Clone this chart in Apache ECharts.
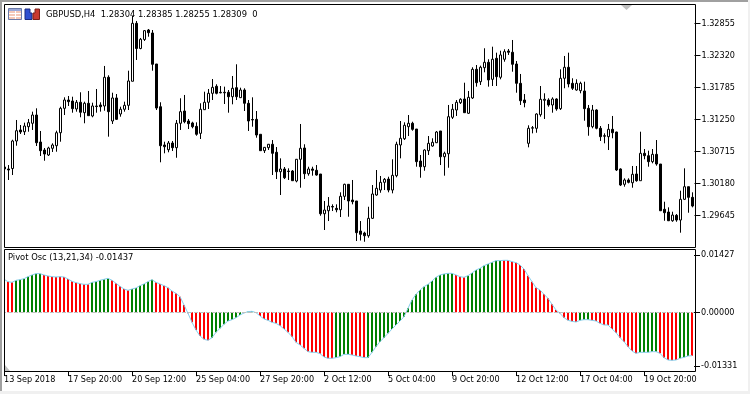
<!DOCTYPE html>
<html>
<head>
<meta charset="utf-8">
<title>GBPUSD,H4</title>
<style>
html,body{margin:0;padding:0;background:#fff;}
#chart{width:750px;height:394px;}
</style>
<script src="https://cdn.jsdelivr.net/npm/echarts@6/dist/echarts.min.js"></script>
</head>
<body>
<div id="chart"></div>
<script>
const tickLabels = ['13 Sep 2018','17 Sep 20:00','20 Sep 12:00','25 Sep 04:00','27 Sep 20:00','2 Oct 12:00','5 Oct 04:00','9 Oct 20:00','12 Oct 12:00','17 Oct 04:00','19 Oct 20:00'];
const priceTicks = [1.32855,1.3232,1.31785,1.3125,1.30715,1.3018,1.29645];
const oscTicks = [0.01427,0,-0.01331];

const openPrices = [
1.30459,1.30426,1.30434,1.30894,1.31078,1.31049,1.31133,1.31190,1.31328,1.30877,
1.30743,1.30660,1.30772,1.30815,1.31032,1.31440,1.31579,1.31562,1.31429,1.31541,
1.31367,1.31524,1.31312,1.31479,1.31496,1.31479,1.31959,1.31228,1.31613,1.31345,
1.31424,1.31490,1.31892,1.32861,1.32440,1.32591,1.32749,1.32699,1.32181,1.31467,
1.30827,1.30748,1.30860,1.30782,1.31190,1.31395,1.31228,1.31195,1.31139,1.31022,
1.31417,1.31541,1.31691,1.31808,1.31708,1.31708,1.31708,1.31634,1.31785,1.31618,
1.31746,1.31524,1.31253,1.31256,1.31006,1.30732,1.30782,1.30839,1.30705,1.30380,
1.30426,1.30392,1.30392,1.30225,1.30588,1.30777,1.30347,1.30426,1.30404,1.30342,
1.29678,1.29728,1.29799,1.29768,1.29745,1.29969,1.30170,1.29907,1.29891,1.29389,
1.29356,1.29310,1.29601,1.29991,1.30074,1.30203,1.30258,1.30074,1.30314,1.30827,
1.30932,1.31133,1.31190,1.31094,1.30559,1.30464,1.30732,1.30810,1.30865,1.31061,
1.30631,1.30681,1.31290,1.31412,1.31534,1.31596,1.31357,1.31613,1.32092,1.31885,
1.32119,1.32209,1.31925,1.32276,1.31959,1.32260,1.32398,1.32377,1.32181,1.31858,
1.31579,1.30855,1.31108,1.31106,1.31333,1.31574,1.31579,1.31496,1.31596,1.31434,
1.31942,1.32126,1.31858,1.31746,1.31735,1.31730,1.31440,1.31133,1.31412,1.31106,
1.30982,1.30966,1.31089,1.31044,1.30426,1.30170,1.30242,1.30196,1.30342,1.30230,
1.30688,1.30648,1.30548,1.30671,1.30509,1.29752,1.29707,1.29561,1.29651,1.29573,
1.29919,1.30130,1.29952];
const closePrices = [
1.30426,1.30409,1.30894,1.31066,1.31044,1.31144,1.31200,1.31328,1.30865,1.30732,
1.30676,1.30777,1.30827,1.31032,1.31440,1.31579,1.31551,1.31434,1.31541,1.31374,
1.31524,1.31317,1.31479,1.31470,1.31467,1.31959,1.31384,1.31613,1.31256,1.31424,
1.31490,1.31897,1.32861,1.32440,1.32594,1.32738,1.32704,1.32176,1.31445,1.30815,
1.30798,1.30860,1.30782,1.31190,1.31384,1.31216,1.31183,1.31133,1.31006,1.31424,
1.31541,1.31691,1.31791,1.31691,1.31699,1.31699,1.31634,1.31775,1.31634,1.31746,
1.31524,1.31228,1.31245,1.30994,1.30732,1.30788,1.30839,1.30688,1.30380,1.30426,
1.30280,1.30384,1.30230,1.30588,1.30772,1.30347,1.30426,1.30404,1.30325,1.29678,
1.29740,1.29807,1.29790,1.29745,1.29969,1.30170,1.29891,1.29879,1.29361,1.29334,
1.29310,1.29601,1.30008,1.30103,1.30203,1.30253,1.30074,1.30320,1.30839,1.30939,
1.31156,1.31190,1.31089,1.30548,1.30464,1.30743,1.30855,1.30872,1.31044,1.30631,
1.30688,1.31300,1.31424,1.31541,1.31591,1.31367,1.31624,1.32092,1.31868,1.32126,
1.32209,1.31914,1.32260,1.31969,1.32332,1.32387,1.32377,1.32176,1.31858,1.31567,
1.31534,1.31106,1.31116,1.31345,1.31591,1.31591,1.31496,1.31596,1.31429,1.31942,
1.32126,1.31847,1.31775,1.31858,1.31858,1.31434,1.31133,1.31412,1.31106,1.30966,
1.30974,1.31089,1.31032,1.30409,1.30158,1.30242,1.30203,1.30337,1.30230,1.30688,
1.30648,1.30548,1.30671,1.30509,1.29728,1.29695,1.29561,1.29656,1.29573,1.29919,
1.30130,1.29952,1.29807];
const lowPrices = [
1.30375,1.30242,1.30325,1.30815,1.31011,1.30994,1.31049,1.31078,1.30810,1.30643,
1.30564,1.30643,1.30710,1.30715,1.30882,1.31328,1.31479,1.31367,1.31384,1.31290,
1.31190,1.31317,1.31290,1.31367,1.31384,1.31400,1.30966,1.31178,1.31245,1.31300,
1.31384,1.31412,1.31892,1.32248,1.32427,1.32566,1.32637,1.32069,1.31412,1.30538,
1.30688,1.30705,1.30727,1.30614,1.31078,1.31190,1.31094,1.31106,1.30982,1.30927,
1.31412,1.31429,1.31579,1.31674,1.31691,1.31512,1.31367,1.31507,1.31579,1.31613,
1.31395,1.31061,1.31133,1.30949,1.30732,1.30693,1.30743,1.30325,1.30258,1.29991,
1.30258,1.30242,1.30225,1.30203,1.30113,1.30258,1.30314,1.30314,1.30314,1.29645,
1.29406,1.29556,1.29723,1.29702,1.29623,1.29907,1.29628,1.29835,1.29222,1.29230,
1.29210,1.29277,1.29590,1.29979,1.30029,1.30074,1.30036,1.30019,1.30287,1.30604,
1.30910,1.30977,1.31066,1.30464,1.30280,1.30397,1.30660,1.30798,1.30860,1.30492,
1.30314,1.30447,1.31262,1.31312,1.31512,1.31367,1.31345,1.31596,1.31802,1.31830,
1.32042,1.31802,1.31813,1.31813,1.31925,1.32219,1.32332,1.32052,1.31701,1.31496,
1.31457,1.30788,1.31022,1.31032,1.31300,1.31262,1.31467,1.31367,1.31400,1.31412,
1.31775,1.31791,1.31746,1.31735,1.31691,1.31233,1.30982,1.31106,1.31089,1.30894,
1.30855,1.30743,1.30939,1.30392,1.30141,1.30130,1.30186,1.30113,1.30213,1.30230,
1.30588,1.30464,1.30521,1.30481,1.29723,1.29561,1.29556,1.29544,1.29544,1.29361,
1.29907,1.29695,1.29785];
const highPrices = [
1.30492,1.30492,1.30915,1.31245,1.31161,1.31200,1.31262,1.31384,1.31440,1.31061,
1.30777,1.30798,1.30855,1.31066,1.31467,1.31624,1.31646,1.31634,1.31579,1.31708,
1.31551,1.31730,1.31534,1.31763,1.31541,1.32148,1.31992,1.31701,1.31679,1.31467,
1.31551,1.32069,1.32983,1.32900,1.32616,1.32749,1.32766,1.32749,1.32181,1.31541,
1.30882,1.30894,1.30894,1.31245,1.31608,1.31663,1.31262,1.31216,1.31206,1.31524,
1.31718,1.31763,1.31930,1.31842,1.31813,1.31802,1.31746,1.31980,1.32176,1.31785,
1.31775,1.31579,1.31624,1.31395,1.31006,1.30793,1.30844,1.30910,1.30793,1.30604,
1.30459,1.30437,1.30409,1.30593,1.31178,1.30839,1.30464,1.30464,1.30492,1.30342,
1.29891,1.29957,1.29835,1.29835,1.30036,1.30180,1.30175,1.30242,1.29891,1.29556,
1.29377,1.29795,1.30158,1.30409,1.30309,1.30275,1.30297,1.30588,1.30882,1.31228,
1.31206,1.31328,1.31216,1.31094,1.30660,1.30755,1.30977,1.30939,1.31061,1.31061,
1.30715,1.31496,1.31512,1.31579,1.31608,1.31868,1.31730,1.32126,1.32164,1.32153,
1.32444,1.32260,1.32470,1.32370,1.32403,1.32427,1.32432,1.32582,1.32231,1.32014,
1.31679,1.31156,1.31144,1.31357,1.31813,1.31691,1.31608,1.31624,1.31608,1.32092,
1.32315,1.32370,1.31942,1.31925,1.31885,1.31885,1.31496,1.31496,1.31424,1.31144,
1.31022,1.31178,1.31312,1.31049,1.30437,1.30270,1.30270,1.30476,1.30476,1.31049,
1.30760,1.30732,1.30760,1.30910,1.30509,1.29879,1.29785,1.29712,1.29673,1.30063,
1.30437,1.30130,1.30036];

const oscValues = [
0.00822,0.00764,0.00747,0.00797,0.00813,0.00838,0.00888,0.00930,0.00963,0.00963,
0.00930,0.00905,0.00888,0.00880,0.00888,0.00880,0.00830,0.00772,0.00739,0.00714,
0.00697,0.00697,0.00747,0.00764,0.00797,0.00822,0.00847,0.00797,0.00722,0.00647,
0.00581,0.00548,0.00581,0.00606,0.00664,0.00706,0.00764,0.00813,0.00747,0.00706,
0.00664,0.00614,0.00531,0.00473,0.00390,0.00183,-0.00025,-0.00249,-0.00440,-0.00589,
-0.00672,-0.00697,-0.00631,-0.00498,-0.00398,-0.00299,-0.00216,-0.00183,-0.00133,-0.00066,
-0.00017,0.00017,0.00025,-0.00008,-0.00091,-0.00166,-0.00199,-0.00249,-0.00274,-0.00332,
-0.00415,-0.00498,-0.00606,-0.00747,-0.00813,-0.00896,-0.00979,-0.00996,-0.00996,-0.01029,
-0.01112,-0.01145,-0.01145,-0.01129,-0.01104,-0.01046,-0.01046,-0.01062,-0.01087,-0.01104,
-0.01129,-0.01129,-0.00996,-0.00855,-0.00730,-0.00631,-0.00523,-0.00415,-0.00315,-0.00216,
-0.00108,0.00100,0.00307,0.00448,0.00556,0.00639,0.00697,0.00780,0.00872,0.00930,
0.00955,0.00971,0.00971,0.00930,0.00888,0.00872,0.00913,0.00979,0.01054,0.01096,
0.01162,0.01204,0.01245,0.01287,0.01287,0.01295,0.01295,0.01262,0.01237,0.01179,
0.01079,0.00913,0.00764,0.00614,0.00556,0.00448,0.00349,0.00199,0.00058,-0.00025,
-0.00133,-0.00199,-0.00224,-0.00241,-0.00199,-0.00183,-0.00183,-0.00199,-0.00216,-0.00274,
-0.00315,-0.00315,-0.00415,-0.00506,-0.00631,-0.00730,-0.00855,-0.00963,-0.01021,-0.00996,
-0.00996,-0.00996,-0.00979,-0.00979,-0.01021,-0.01129,-0.01187,-0.01195,-0.01187,-0.01145,
-0.01121,-0.01087,-0.01079];
// 1 = green bar, 0 = red bar
const oscRising = [
0,0,0,1,1,1,1,1,1,1,
0,0,0,0,0,0,0,0,0,0,
0,0,1,1,1,1,1,0,0,0,
0,0,1,1,1,1,1,1,0,0,
0,0,0,0,0,0,0,0,0,0,
0,0,1,1,1,1,1,1,1,1,
1,1,1,0,0,0,0,0,0,0,
0,0,0,0,0,0,0,0,0,0,
0,0,0,1,1,1,1,0,0,0,
0,1,1,1,1,1,1,1,1,1,
1,1,1,1,1,1,1,1,1,1,
1,1,1,0,0,0,1,1,1,1,
1,1,1,1,1,0,0,0,0,0,
0,0,0,0,0,0,0,0,0,0,
0,0,0,0,1,1,1,0,0,0,
0,0,0,0,0,0,0,0,0,1,
1,1,1,1,0,0,0,0,0,1,
1,1,0];

const categories = oscValues.map((v, i) => (i % 16 === 0 ? tickLabels[i / 16] : ''));
const candleData = openPrices.map((o, i) => [o, closePrices[i], lowPrices[i], highPrices[i]]);

const labelFont = { fontFamily: 'DejaVu Sans Condensed', fontSize: 9, color: '#000' };
const headerStyle = { fontFamily: 'DejaVu Sans Condensed', fontSize: 9.3, fill: '#000' };
const everySixteenth = i => i % 16 === 0;

const myChart = echarts.init(document.getElementById('chart'), null, { renderer: 'canvas' });
myChart.setOption({
  animation: false,
  backgroundColor: '#fff',
  grid: [
    { left: 2.5, top: 5, width: 692, height: 242 },
    { left: 2, top: 250, width: 692, height: 121 }
  ],
  xAxis: [
    { type: 'category', gridIndex: 0, data: categories, show: false },
    {
      type: 'category',
      gridIndex: 1,
      data: categories,
      axisLine: { show: false, onZero: false },
      axisTick: { show: true, alignWithLabel: true, interval: everySixteenth, length: 5, lineStyle: { color: '#000' } },
      axisLabel: { ...labelFont, interval: everySixteenth, align: 'left', margin: 4, hideOverlap: false }
    }
  ],
  yAxis: [
    {
      type: 'value',
      gridIndex: 0,
      position: 'right',
      min: 1.29122,
      max: 1.33167,
      splitLine: { show: false },
      axisLine: { show: false },
      axisTick: { show: true, length: 6, customValues: priceTicks, lineStyle: { color: '#000' } },
      axisLabel: { ...labelFont, margin: 7, customValues: priceTicks, formatter: v => v.toFixed(5) }
    },
    {
      type: 'value',
      gridIndex: 1,
      position: 'right',
      min: -0.01461,
      max: 0.01552,
      splitLine: { show: false },
      axisLine: { show: false },
      axisTick: { show: true, length: 6, customValues: oscTicks, lineStyle: { color: '#000' } },
      axisLabel: { ...labelFont, margin: 7, customValues: oscTicks, formatter: v => v.toFixed(5) }
    }
  ],
  series: [
    {
      name: 'GBPUSD,H4',
      type: 'candlestick',
      xAxisIndex: 0,
      yAxisIndex: 0,
      barWidth: 2,
      itemStyle: { color: '#fff', color0: '#000', borderColor: '#000', borderColor0: '#000', borderWidth: 1 },
      data: candleData
    },
    {
      name: 'Pivot Osc',
      type: 'bar',
      xAxisIndex: 1,
      yAxisIndex: 1,
      barWidth: 2,
      itemStyle: { color: p => (oscRising[p.dataIndex] ? '#008000' : '#ff0000') },
      data: oscValues
    },
    {
      name: 'Pivot Osc line',
      type: 'line',
      xAxisIndex: 1,
      yAxisIndex: 1,
      symbol: 'none',
      lineStyle: { color: '#87ceeb', width: 1 },
      markLine: {
        silent: true,
        symbol: 'none',
        label: { show: false },
        lineStyle: { color: '#c0c0c0', type: 'dashed', width: 1 },
        data: [{ yAxis: 0 }]
      },
      data: oscValues
    }
  ],
  graphic: [
    // window edges
    { type: 'rect', z: 100, shape: { x: 0, y: 0, width: 4, height: 394 }, style: { fill: '#fff' } },
    { type: 'rect', z: 100, shape: { x: 0, y: 0, width: 2, height: 394 }, style: { fill: '#a0a0a0' } },
    { type: 'rect', z: 100, shape: { x: 0, y: 0, width: 750, height: 2 }, style: { fill: '#a0a0a0' } },
    { type: 'rect', z: 100, shape: { x: 0, y: 391, width: 750, height: 3 }, style: { fill: '#f0f0f0' } },
    { type: 'rect', z: 100, shape: { x: 748, y: 0, width: 2, height: 394 }, style: { fill: '#f0f0f0' } },
    // panel frames
    { type: 'rect', z: 101, shape: { x: 4.5, y: 4.5, width: 691, height: 243 }, style: { fill: 'transparent', stroke: '#000', lineWidth: 1 } },
    { type: 'rect', z: 101, shape: { x: 4.5, y: 249.5, width: 691, height: 122 }, style: { fill: 'transparent', stroke: '#000', lineWidth: 1 } },
    // scale markers
    { type: 'polygon', z: 102, shape: { points: [[621, 5], [632, 5], [626.5, 10]] }, style: { fill: '#c0c0c0' } },
    { type: 'polygon', z: 102, shape: { points: [[5, 371], [5, 365], [10, 371]] }, style: { fill: '#c0c0c0' } },
    // toolbar icons
    { type: 'rect', z: 102, shape: { x: 8.5, y: 8.5, width: 13, height: 11 }, style: { fill: '#f4c8b8', stroke: '#6a7aa8', lineWidth: 1 } },
    { type: 'rect', z: 103, shape: { x: 9, y: 9, width: 12, height: 2 }, style: { fill: '#9aa8d8' } },
    { type: 'rect', z: 103, shape: { x: 15, y: 11, width: 1, height: 8 }, style: { fill: '#fff' } },
    { type: 'rect', z: 103, shape: { x: 9, y: 13, width: 12, height: 1 }, style: { fill: '#fff' } },
    { type: 'rect', z: 103, shape: { x: 9, y: 16, width: 12, height: 1 }, style: { fill: '#fff' } },
    { type: 'polygon', z: 102, shape: { points: [[25, 9], [30, 9], [30, 13], [32, 13], [32, 19.5], [25, 19.5]] }, style: { fill: '#2f4fd0', stroke: '#1a2a80', lineWidth: 1 } },
    { type: 'polygon', z: 102, shape: { points: [[33, 13], [35, 13], [35, 9], [39.5, 9], [39.5, 19.5], [33, 19.5]] }, style: { fill: '#c83a30', stroke: '#7a2018', lineWidth: 1 } },
    // header texts
    { type: 'text', z: 104, x: 46, y: 10, style: { text: 'GBPUSD,H4  1.28304 1.28385 1.28255 1.28309  0', ...headerStyle } },
    { type: 'text', z: 104, x: 8, y: 253, style: { text: 'Pivot Osc (13,21,34) -0.01437', ...headerStyle } }
  ]
});
</script>
</body>
</html>
